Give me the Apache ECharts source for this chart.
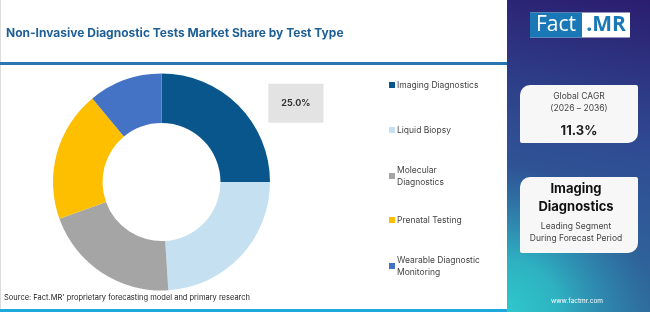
<!DOCTYPE html>
<html>
<head>
<meta charset="utf-8">
<script src="https://cdn.jsdelivr.net/npm/echarts@6/dist/echarts.min.js"></script>
<style>
html,body{margin:0;padding:0;background:#fff;}
#chart{width:650px;height:312px;}
</style>
</head>
<body>
<div id="chart"></div>
<script>
var categories = ['Imaging Diagnostics', 'Liquid Biopsy', 'Molecular Diagnostics', 'Prenatal Testing', 'Wearable Diagnostic Monitoring'];
var legendLabels = ['Imaging Diagnostics', 'Liquid Biopsy', 'Molecular\nDiagnostics', 'Prenatal Testing', 'Wearable Diagnostic\nMonitoring'];
var shares = [25.0, 24.0, 20.5, 19.5, 11.0];
var colors = ['#08568c', '#c4e0f1', '#a5a5a5', '#fdbf00', '#4472c4'];
var titleText = 'Non-Invasive Diagnostic Tests Market Share by Test Type';
var cagrLabel = ['Global CAGR', '(2026 \u2013 2036)'];
var cagrValue = '11.3%';
var leadingSegment = ['Imaging', 'Diagnostics'];
var leadingNote = ['Leading Segment', 'During Forecast Period'];
var sourceText = "Source: Fact.MR' proprietary forecasting model and primary research";

var FONT = 'Inter, "Open Sans", sans-serif';
var chart = echarts.init(document.getElementById('chart'));

var pieData = categories.map(function (c, i) {
  return {
    name: c,
    value: shares[i],
    itemStyle: { color: colors[i] },
    label: { show: i === 0 }
  };
});

var legendTops = [85, 130, 175, 220, 265];
var legends = categories.map(function (c, i) {
  var twoLine = legendLabels[i].indexOf('\n') >= 0;
  return {
    data: [c],
    left: 389,
    top: legendTops[i] - (twoLine ? 17 : 6),
    orient: 'vertical',
    padding: 0,
    itemWidth: 6,
    itemHeight: 6,
    itemGap: 0,
    icon: 'rect',
    selectedMode: false,
    formatter: function () { return legendLabels[i]; },
    textStyle: {
      fontFamily: FONT, fontSize: 8.5, color: '#444', lineHeight: 12,
      padding: twoLine ? [12, 0, 0, -3] : [0, 0, 0, -3]
    }
  };
});

var option = {
  animation: false,
  backgroundColor: '#ffffff',
  legend: legends,
  series: [{
    type: 'pie',
    center: [161.5, 182],
    radius: [59, 108.5],
    startAngle: 90,
    clockwise: true,
    silent: true,
    data: pieData,
    label: {
      position: 'outside',
      formatter: function (p) { return p.value.toFixed(1) + '%'; },
      fontFamily: FONT, fontSize: 9, fontWeight: 'bold', color: '#333',
      backgroundColor: '#e3e3e3',
      padding: [14, 13],
      lineHeight: 11
    },
    labelLine: { show: false, length: 3, length2: 23 }
  }],
  graphic: [
    { type: 'rect', z: -1, shape: { x: 0, y: 0, width: 1, height: 312 }, style: { fill: '#dcdcdc' } },
    { type: 'text', left: 6, top: 27, style: { text: titleText, fontFamily: FONT, fontSize: 12, fontWeight: 'bold', fill: '#1e5f95' } },
    { type: 'rect', shape: { x: 0, y: 62, width: 507, height: 3 }, style: { fill: '#2a76b3' } },
    { type: 'text', left: 4, top: 294, style: { text: sourceText, fontFamily: FONT, fontSize: 7.5, fill: '#222' } },
    { type: 'rect', shape: { x: 0, y: 309, width: 507, height: 3 }, style: { fill: '#1ea8dc' } },
    {
      type: 'rect', shape: { x: 507, y: 0, width: 143, height: 312 },
      style: {
        fill: new echarts.graphic.LinearGradient(1, 0, 0.6, 1, [
          { offset: 0, color: '#2b1d6f' },
          { offset: 0.45, color: '#2f4a92' },
          { offset: 1, color: '#2e6e9d' }
        ])
      }
    },
    {
      type: 'rect', shape: { x: 507, y: 0, width: 143, height: 312 },
      style: {
        fill: new echarts.graphic.RadialGradient(0, 1, 1.45, [
          { offset: 0, color: 'rgba(46,200,204,1)' },
          { offset: 0.25, color: 'rgba(46,190,200,0.85)' },
          { offset: 0.7, color: 'rgba(46,150,190,0)' },
          { offset: 1, color: 'rgba(46,150,190,0)' }
        ])
      }
    },
    { type: 'rect', shape: { x: 530, y: 12.5, width: 100, height: 25 }, style: { fill: '#ffffff' } },
    { type: 'rect', shape: { x: 530, y: 12.5, width: 52, height: 25 }, style: { fill: '#1a78b6' } },
    { type: 'text', x: 556, y: 25.5, style: { text: 'Fact', fontFamily: '"Open Sans", sans-serif', fontSize: 21, fill: '#ffffff', align: 'center', verticalAlign: 'middle' } },
    { type: 'text', x: 606, y: 25.5, style: { text: '.MR', fontFamily: '"Open Sans", sans-serif', fontSize: 21, fontWeight: 'bold', fill: '#1a78b6', align: 'center', verticalAlign: 'middle' } },
    { type: 'rect', shape: { x: 520, y: 85, width: 118, height: 58, r: [10, 2, 10, 2] }, style: { fill: '#f7f7f7' } },
    { type: 'text', x: 579, y: 96, style: { text: cagrLabel[0], fontFamily: FONT, fontSize: 8.5, fill: '#444', align: 'center', verticalAlign: 'middle' } },
    { type: 'text', x: 579, y: 108, style: { text: cagrLabel[1], fontFamily: FONT, fontSize: 8.5, fill: '#444', align: 'center', verticalAlign: 'middle' } },
    { type: 'text', x: 579, y: 131, style: { text: cagrValue, fontFamily: FONT, fontSize: 13, fontWeight: 'bold', fill: '#1d1d1d', align: 'center', verticalAlign: 'middle' } },
    { type: 'rect', shape: { x: 520, y: 177, width: 118, height: 76, r: [10, 2, 10, 2] }, style: { fill: '#f7f7f7' } },
    { type: 'text', x: 576, y: 189, style: { text: leadingSegment[0], fontFamily: FONT, fontSize: 13, fontWeight: 'bold', fill: '#111', align: 'center', verticalAlign: 'middle' } },
    { type: 'text', x: 576, y: 207, style: { text: leadingSegment[1], fontFamily: FONT, fontSize: 13, fontWeight: 'bold', fill: '#111', align: 'center', verticalAlign: 'middle' } },
    { type: 'text', x: 576, y: 226, style: { text: leadingNote[0], fontFamily: FONT, fontSize: 8.5, fill: '#444', align: 'center', verticalAlign: 'middle' } },
    { type: 'text', x: 576, y: 238, style: { text: leadingNote[1], fontFamily: FONT, fontSize: 8.5, fill: '#444', align: 'center', verticalAlign: 'middle' } },
    { type: 'text', x: 577, y: 301.5, style: { text: 'www.factmr.com', fontFamily: FONT, fontSize: 6.5, fill: '#ffffff', align: 'center', verticalAlign: 'middle' } }
  ]
};
chart.setOption(option);
</script>
</body>
</html>
